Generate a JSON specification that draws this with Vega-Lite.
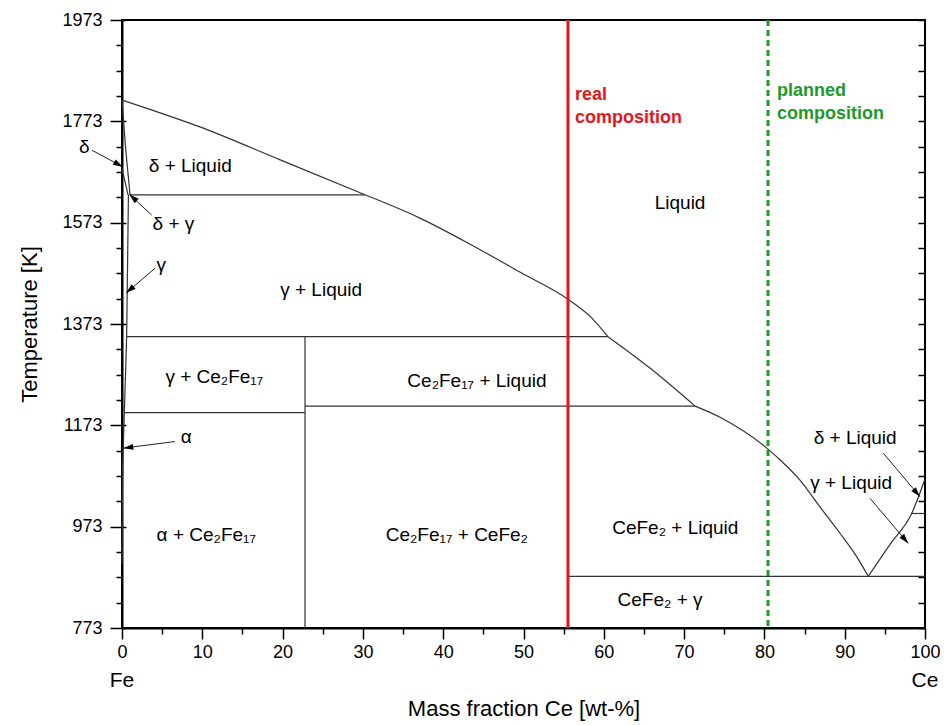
{
  "$schema": "https://vega.github.io/schema/vega-lite/v6.json",
  "width": 803,
  "height": 608,
  "autosize": {"type": "none"},
  "padding": {"left": 122, "top": 20, "right": 19, "bottom": 97},
  "background": "white",
  "config": {"view": {"stroke": "black", "strokeWidth": 2}, "font": "Liberation Sans"},
  "datasets": {
    "curves": [
      {"seg": "liq1", "i": 0, "x": 0, "T": 1815},
      {"seg": "liq1", "i": 1, "x": 9.7, "T": 1762},
      {"seg": "liq1", "i": 2, "x": 19.7, "T": 1697},
      {"seg": "liq1", "i": 3, "x": 30.26, "T": 1628},
      {"seg": "liq2", "i": 0, "x": 30.26, "T": 1628},
      {"seg": "liq2", "i": 1, "x": 37.1, "T": 1582},
      {"seg": "liq2", "i": 2, "x": 43.3, "T": 1531},
      {"seg": "liq2", "i": 3, "x": 49.6, "T": 1475},
      {"seg": "liq2", "i": 4, "x": 55.54, "T": 1422},
      {"seg": "liq2", "i": 5, "x": 58.3, "T": 1388},
      {"seg": "liq2", "i": 6, "x": 60.52, "T": 1348},
      {"seg": "liq3", "i": 0, "x": 60.52, "T": 1348},
      {"seg": "liq3", "i": 1, "x": 65.75, "T": 1286},
      {"seg": "liq3", "i": 2, "x": 71.36, "T": 1211},
      {"seg": "liq4", "i": 0, "x": 71.36, "T": 1211},
      {"seg": "liq4", "i": 1, "x": 74.47, "T": 1189},
      {"seg": "liq4", "i": 2, "x": 80.45, "T": 1126},
      {"seg": "liq4", "i": 3, "x": 81.94, "T": 1105},
      {"seg": "liq4", "i": 4, "x": 84.43, "T": 1065},
      {"seg": "liq4", "i": 5, "x": 86.92, "T": 1012},
      {"seg": "liq4", "i": 6, "x": 89.41, "T": 960},
      {"seg": "liq4", "i": 7, "x": 91.49, "T": 914},
      {"seg": "liq4", "i": 8, "x": 92.94, "T": 875},
      {"seg": "liq5", "i": 0, "x": 92.94, "T": 875},
      {"seg": "liq5", "i": 1, "x": 95.64, "T": 938},
      {"seg": "liq5", "i": 2, "x": 98.34, "T": 999},
      {"seg": "liq5", "i": 3, "x": 100, "T": 1067}
    ],
    "bounds": [
      {"seg": "dsol", "i": 0, "x": 0, "T": 1815},
      {"seg": "dsol", "i": 1, "x": 0.45, "T": 1720},
      {"seg": "dsol", "i": 2, "x": 1.0, "T": 1628},
      {"seg": "dgam", "i": 0, "x": 0, "T": 1680},
      {"seg": "dgam", "i": 1, "x": 0.75, "T": 1628},
      {"seg": "gsol", "i": 0, "x": 0.8, "T": 1628},
      {"seg": "gsol", "i": 1, "x": 0.7, "T": 1500},
      {"seg": "gsol", "i": 2, "x": 0.58, "T": 1348},
      {"seg": "gce", "i": 0, "x": 0.58, "T": 1348},
      {"seg": "gce", "i": 1, "x": 0.29, "T": 1198},
      {"seg": "alpha", "i": 0, "x": 0.29, "T": 1198},
      {"seg": "alpha", "i": 1, "x": 0.1, "T": 1100},
      {"seg": "alpha", "i": 2, "x": 0.03, "T": 1000},
      {"seg": "alpha", "i": 3, "x": 0, "T": 900},
      {"seg": "h1", "i": 0, "x": 1.0, "T": 1628},
      {"seg": "h1", "i": 1, "x": 30.26, "T": 1628},
      {"seg": "h2", "i": 0, "x": 0.58, "T": 1348},
      {"seg": "h2", "i": 1, "x": 60.52, "T": 1348},
      {"seg": "h3", "i": 0, "x": 0.29, "T": 1198},
      {"seg": "h3", "i": 1, "x": 22.79, "T": 1198},
      {"seg": "h4", "i": 0, "x": 22.79, "T": 1211},
      {"seg": "h4", "i": 1, "x": 71.36, "T": 1211},
      {"seg": "v1", "i": 0, "x": 22.79, "T": 773},
      {"seg": "v1", "i": 1, "x": 22.79, "T": 1348},
      {"seg": "v2", "i": 0, "x": 55.54, "T": 773},
      {"seg": "v2", "i": 1, "x": 55.54, "T": 1211},
      {"seg": "h5", "i": 0, "x": 55.54, "T": 875},
      {"seg": "h5", "i": 1, "x": 100, "T": 875},
      {"seg": "h6", "i": 0, "x": 98.34, "T": 999},
      {"seg": "h6", "i": 1, "x": 100, "T": 999}
    ],
    "labels": [
      {"x": 8.5, "T": 1685, "label": "δ + Liquid"},
      {"x": 69.5, "T": 1612, "label": "Liquid"},
      {"x": 6.4, "T": 1570, "label": "δ + γ"},
      {"x": 4.9, "T": 1490, "label": "γ"},
      {"x": 24.8, "T": 1440, "label": "γ + Liquid"},
      {"x": 11.5, "T": 1268, "label": "γ + Ce₂Fe₁₇"},
      {"x": 44.2, "T": 1260, "label": "Ce₂Fe₁₇ + Liquid"},
      {"x": 8.0, "T": 1150, "label": "α"},
      {"x": 10.5, "T": 957, "label": "α + Ce₂Fe₁₇"},
      {"x": 41.7, "T": 957, "label": "Ce₂Fe₁₇ + CeFe₂"},
      {"x": 68.9, "T": 970, "label": "CeFe₂ + Liquid"},
      {"x": 67.0, "T": 828, "label": "CeFe₂ + γ"},
      {"x": 91.3, "T": 1148, "label": "δ + Liquid"},
      {"x": 90.8, "T": 1059, "label": "γ + Liquid"},
      {"x": -4.7, "T": 1722, "label": "δ"}
    ],
    "arrows": [
      {"id": "a1", "x": -3.74, "T": 1716, "x2": 0.125, "T2": 1683},
      {"id": "a2", "x": 3.70, "T": 1588, "x2": 0.91, "T2": 1629},
      {"id": "a3", "x": 4.11, "T": 1483, "x2": 0.50, "T2": 1434},
      {"id": "a4", "x": 6.60, "T": 1141, "x2": 0.16, "T2": 1128},
      {"id": "a5", "x": 94.81, "T": 1118, "x2": 99.38, "T2": 1032},
      {"id": "a6", "x": 93.15, "T": 1029, "x2": 97.92, "T2": 940}
    ]
  },
  "layer": [
    {
      "data": {"name": "bounds"},
      "mark": {"type": "line", "color": "#333333", "strokeWidth": 1.2},
      "encoding": {
        "x": {
          "field": "x", "type": "quantitative",
          "scale": {"domain": [0, 100], "nice": false},
          "axis": {
            "orient": "bottom",
            "title": "Mass fraction Ce [wt-%]",
            "values": [0,5,10,15,20,25,30,35,40,45,50,55,60,65,70,75,80,85,90,95,100],
            "labelExpr": "datum.value % 10 === 0 ? datum.label : ''",
            "format": "d",
            "tickSize": {"condition": {"test": "datum.value % 10 === 0", "value": 11}, "value": 6},
            "tickColor": "black", "tickWidth": 1.5,
            "domainColor": "black", "domainWidth": 2,
            "labelFontSize": 18, "labelColor": "black", "labelPadding": 4,
            "labelFont": "Liberation Sans",
            "labelOverlap": false, "labelFlush": false,
            "titleFont": "Liberation Sans", "titleFontSize": 22, "titleFontWeight": "normal",
            "titleColor": "black", "titlePadding": 37,
            "grid": false
          }
        },
        "y": {
          "field": "T", "type": "quantitative",
          "scale": {"domain": [773, 1973], "nice": false, "zero": false},
          "axis": {
            "orient": "left",
            "title": "Temperature [K]",
            "values": [773,823,873,923,973,1023,1073,1123,1173,1223,1273,1323,1373,1423,1473,1523,1573,1623,1673,1723,1773,1823,1873,1923,1973],
            "labelExpr": "(datum.value - 773) % 200 === 0 ? datum.label : ''",
            "format": "d",
            "tickSize": {"condition": {"test": "(datum.value - 773) % 200 === 0", "value": 12}, "value": 6},
            "tickColor": "black", "tickWidth": 1.5,
            "domainColor": "black", "domainWidth": 2,
            "labelFontSize": 18, "labelColor": "black", "labelPadding": 8,
            "labelFont": "Liberation Sans",
            "labelOverlap": false, "labelFlush": false,
            "titleFont": "Liberation Sans", "titleFontSize": 22, "titleFontWeight": "normal",
            "titleColor": "black", "titlePadding": 20,
            "grid": false
          }
        },
        "detail": {"field": "seg"},
        "order": {"field": "i"}
      }
    },
    {
      "data": {"name": "curves"},
      "mark": {"type": "line", "color": "#333333", "strokeWidth": 1.2, "interpolate": "monotone"},
      "encoding": {
        "x": {"field": "x", "type": "quantitative", "axis": null},
        "y": {
          "field": "T", "type": "quantitative",
          "axis": {
            "orient": "left", "labels": false, "domain": false, "title": null, "grid": false,
            "values": [773,973,1173,1373,1573,1773,1973],
            "tickSize": -4, "tickColor": "black", "tickWidth": 1.5
          }
        },
        "detail": {"field": "seg"},
        "order": {"field": "i"}
      }
    },
    {
      "data": {"values": [{"x": 55.54}]},
      "mark": {"type": "rule", "color": "#e8141c", "strokeWidth": 3},
      "encoding": {"x": {"field": "x", "type": "quantitative", "axis": null}}
    },
    {
      "data": {"values": [{"x": 80.45}]},
      "mark": {"type": "rule", "color": "#1f9a2a", "strokeWidth": 3, "strokeDash": [6, 4]},
      "encoding": {"x": {"field": "x", "type": "quantitative", "axis": null}}
    },
    {
      "data": {"name": "labels"},
      "mark": {"type": "text", "fontSize": 19, "font": "Liberation Sans", "color": "black", "align": "center", "baseline": "middle"},
      "encoding": {
        "x": {"field": "x", "type": "quantitative", "axis": null},
        "y": {
          "field": "T", "type": "quantitative",
          "axis": {
            "orient": "right", "labels": false, "domain": false, "title": null, "grid": false,
            "values": [773,823,873,923,973,1023,1073,1123,1173,1223,1273,1323,1373,1423,1473,1523,1573,1623,1673,1723,1773,1823,1873,1923,1973],
            "tickSize": -7, "tickColor": "black", "tickWidth": 1.5
          }
        },
        "text": {"field": "label"}
      }
    },
    {
      "data": {"values": [{"x": 56.4, "T": 1843, "label": "real\ncomposition"}]},
      "mark": {"type": "text", "fontSize": 18, "fontWeight": "bold", "font": "Liberation Sans", "color": "#e8141c", "align": "left", "baseline": "top", "lineBreak": "\n", "lineHeight": 23},
      "encoding": {
        "x": {"field": "x", "type": "quantitative", "axis": null},
        "y": {"field": "T", "type": "quantitative", "axis": null},
        "text": {"field": "label"}
      }
    },
    {
      "data": {"values": [{"x": 81.57, "T": 1850, "label": "planned\ncomposition"}]},
      "mark": {"type": "text", "fontSize": 18, "fontWeight": "bold", "font": "Liberation Sans", "color": "#1f9a2a", "align": "left", "baseline": "top", "lineBreak": "\n", "lineHeight": 23},
      "encoding": {
        "x": {"field": "x", "type": "quantitative", "axis": null},
        "y": {"field": "T", "type": "quantitative", "axis": null},
        "text": {"field": "label"}
      }
    },
    {
      "data": {"values": [{"x": 0, "label": "Fe"}, {"x": 100, "label": "Ce"}]},
      "mark": {"type": "text", "fontSize": 21, "font": "Liberation Sans", "color": "black", "align": "center", "baseline": "middle", "dy": 53},
      "encoding": {
        "x": {"field": "x", "type": "quantitative", "axis": null},
        "y": {"datum": 773, "type": "quantitative", "axis": null},
        "text": {"field": "label"}
      }
    },
    {
      "data": {"name": "arrows"},
      "mark": {"type": "rule", "color": "#222222", "strokeWidth": 1},
      "encoding": {
        "x": {"field": "x", "type": "quantitative", "axis": null},
        "y": {"field": "T", "type": "quantitative", "axis": null},
        "x2": {"field": "x2"},
        "y2": {"field": "T2"}
      }
    },
    {
      "data": {"name": "arrows"},
      "transform": [{"filter": "datum.id === 'a1'"}],
      "mark": {"type": "point", "shape": "M0,0L0.3,1L-0.3,1Z", "filled": true, "color": "black", "opacity": 1, "size": 400, "angle": 118.7},
      "encoding": {
        "x": {"field": "x2", "type": "quantitative", "axis": null},
        "y": {"field": "T2", "type": "quantitative", "axis": null}
      }
    },
    {
      "data": {"name": "arrows"},
      "transform": [{"filter": "datum.id === 'a2'"}],
      "mark": {"type": "point", "shape": "M0,0L0.3,1L-0.3,1Z", "filled": true, "color": "black", "opacity": 1, "size": 400, "angle": -47.3},
      "encoding": {
        "x": {"field": "x2", "type": "quantitative", "axis": null},
        "y": {"field": "T2", "type": "quantitative", "axis": null}
      }
    },
    {
      "data": {"name": "arrows"},
      "transform": [{"filter": "datum.id === 'a3'"}],
      "mark": {"type": "point", "shape": "M0,0L0.3,1L-0.3,1Z", "filled": true, "color": "black", "opacity": 1, "size": 400, "angle": -130.8},
      "encoding": {
        "x": {"field": "x2", "type": "quantitative", "axis": null},
        "y": {"field": "T2", "type": "quantitative", "axis": null}
      }
    },
    {
      "data": {"name": "arrows"},
      "transform": [{"filter": "datum.id === 'a4'"}],
      "mark": {"type": "point", "shape": "M0,0L0.3,1L-0.3,1Z", "filled": true, "color": "black", "opacity": 1, "size": 400, "angle": -97.3},
      "encoding": {
        "x": {"field": "x2", "type": "quantitative", "axis": null},
        "y": {"field": "T2", "type": "quantitative", "axis": null}
      }
    },
    {
      "data": {"name": "arrows"},
      "transform": [{"filter": "datum.id === 'a5' || datum.id === 'a6'"}],
      "mark": {"type": "point", "shape": "M0,0L0.3,1L-0.3,1Z", "filled": true, "color": "black", "opacity": 1, "size": 400, "angle": 139.7},
      "encoding": {
        "x": {"field": "x2", "type": "quantitative", "axis": null},
        "y": {"field": "T2", "type": "quantitative", "axis": null}
      }
    }
  ],
  "resolve": {"axis": {"x": "independent", "y": "independent"}}
}
